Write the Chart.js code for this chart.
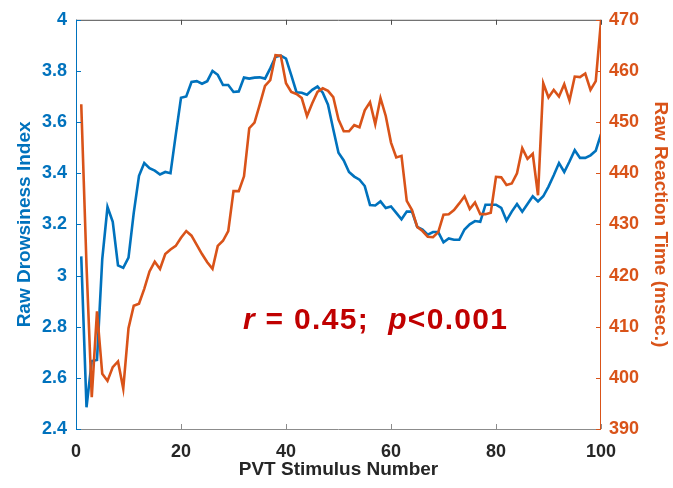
<!DOCTYPE html>
<html lang="en">
<head>
  <meta charset="UTF-8" />
  <title>Drowsiness vs Reaction Time</title>
  <script src="https://cdn.jsdelivr.net/npm/chart.js"></script>
  <style>
    html, body { margin: 0; padding: 0; background: #fff; }
    #wrap { width: 673px; height: 488px; }
  </style>
</head>
<body>
  <div id="wrap"><canvas id="chart"></canvas></div>

  <script>
    // stimulus numbers 1..100
    const stimulus = Array.from({ length: 100 }, (_, i) => i + 1);

    const drowsiness = [
      3.075, 2.485, 2.666, 2.67, 3.064, 3.268, 3.21, 3.04, 3.03, 3.07,
      3.245, 3.39, 3.44, 3.42, 3.41, 3.395, 3.405, 3.40, 3.55, 3.695,
      3.70, 3.757, 3.76, 3.75, 3.76, 3.80, 3.785, 3.745, 3.745, 3.718,
      3.72, 3.774, 3.77, 3.774, 3.775, 3.77, 3.81, 3.855, 3.86, 3.848,
      3.784, 3.717, 3.715, 3.707, 3.726, 3.739, 3.715, 3.668, 3.572, 3.48,
      3.45, 3.405, 3.387, 3.375, 3.35, 3.276, 3.274, 3.29, 3.264, 3.27,
      3.245, 3.22, 3.25, 3.25, 3.19, 3.18, 3.16, 3.17, 3.17, 3.13,
      3.145, 3.14, 3.14, 3.18, 3.20, 3.213, 3.21, 3.277, 3.277, 3.277,
      3.265, 3.215, 3.25, 3.28, 3.25, 3.28, 3.31, 3.29, 3.31, 3.348,
      3.392, 3.44, 3.405, 3.446, 3.49, 3.46, 3.46, 3.47, 3.488, 3.553
    ];

    const reactionTime = [
      453.5, 422, 396.2, 413, 400.8, 399.4, 402.1, 403.2, 397.9, 409.7,
      414.1, 414.5, 417.4, 420.8, 422.7, 421.3, 424.2, 425.1, 425.8, 427.4,
      428.7, 427.8, 426, 424.2, 422.6, 421.3, 425.8, 426.8, 428.7, 436.5,
      436.5, 439.4, 448.8, 449.9, 453.4, 457.1, 458.2, 463.1, 463, 457.6,
      455.9, 455.5, 454.7, 451.2, 453.7, 455.9, 456.6, 456.1, 454.9, 450.5,
      448.2, 448.2, 449.4, 449, 452.3, 453.9, 449.6, 454.7, 451.2, 446,
      443.1, 443.4, 434.6, 432.8, 429.5, 428.7, 427.6, 427.5, 428.5, 431.9,
      432, 432.8, 434.1, 435.5, 433, 434.3, 432, 432, 432.3, 439.3,
      439.2, 437.7, 438, 440, 444.9, 442.8, 443.8, 435.7, 457.6, 454.8,
      456.3, 455, 457.4, 454.2, 458.9, 458.8, 459.5, 456.3, 458, 469.8
    ];

    const xRange = [0, 100, 20];
    const leftRange = [2.4, 4, 0.2];
    const rightRange = [390, 470, 10];

    const BLUE = '#0072BD';
    const ORANGE = '#D95319';
    const DARK = '#262626';
    const TICK_FONT = { family: '"Liberation Sans", Arial, sans-serif', size: 18, weight: 'bold' };
    const TITLE_FONT = { family: '"Liberation Sans", Arial, sans-serif', size: 19, weight: 'bold' };

    // box + inward ticks, MATLAB style
    const framePlugin = {
      id: 'frame',
      afterDatasetsDraw(chart) {
        const { ctx, chartArea: a, scales } = chart;
        const L = 5;
        ctx.save();
        ctx.lineWidth = 1;
        // top / bottom
        ctx.strokeStyle = '#4d4d4d';
        ctx.beginPath(); ctx.moveTo(a.left, a.top + 0.5); ctx.lineTo(a.right, a.top + 0.5); ctx.stroke();
        ctx.strokeStyle = '#8c8c8c';
        ctx.beginPath(); ctx.moveTo(a.left, a.bottom + 0.5); ctx.lineTo(a.right, a.bottom + 0.5); ctx.stroke();
        scales.x.ticks.forEach(t => {
          const px = Math.round(scales.x.getPixelForValue(t.value)) + 0.5;
          ctx.strokeStyle = '#4d4d4d';
          ctx.beginPath(); ctx.moveTo(px, a.top); ctx.lineTo(px, a.top + L); ctx.stroke();
          ctx.strokeStyle = '#8c8c8c';
          ctx.beginPath(); ctx.moveTo(px, a.bottom); ctx.lineTo(px, a.bottom - L); ctx.stroke();
        });
        // left axis
        ctx.strokeStyle = BLUE;
        ctx.beginPath(); ctx.moveTo(a.left + 0.5, a.top); ctx.lineTo(a.left + 0.5, a.bottom + 1); ctx.stroke();
        scales.y.ticks.forEach(t => {
          const py = Math.round(scales.y.getPixelForValue(t.value)) + 0.5;
          ctx.beginPath(); ctx.moveTo(a.left, py); ctx.lineTo(a.left + L, py); ctx.stroke();
        });
        // right axis
        ctx.strokeStyle = ORANGE;
        ctx.beginPath(); ctx.moveTo(a.right - 0.5, a.top); ctx.lineTo(a.right - 0.5, a.bottom + 1); ctx.stroke();
        scales.y2.ticks.forEach(t => {
          const py = Math.round(scales.y2.getPixelForValue(t.value)) + 0.5;
          ctx.beginPath(); ctx.moveTo(a.right, py); ctx.lineTo(a.right - L, py); ctx.stroke();
        });

        // correlation note
        const parts = [
          ['r', 'italic'], [' = 0.45;  ', 'normal'], ['p', 'italic'], ['<0.001', 'normal']
        ];
        let x = a.left + 167;
        const y = 329;
        ctx.fillStyle = '#C00000';
        ctx.textBaseline = 'alphabetic';
        ctx.letterSpacing = '1.3px';
        parts.forEach(([s, style]) => {
          ctx.font = style + ' bold 30px "Liberation Sans", Arial, sans-serif';
          ctx.fillText(s, x, y);
          x += ctx.measureText(s).width;
        });
        ctx.restore();
      }
    };

    new Chart(document.getElementById('chart'), {
      type: 'line',
      data: {
        labels: stimulus,
        datasets: [
          {
            label: 'Raw Reaction Time',
            data: reactionTime,
            yAxisID: 'y2',
            borderColor: ORANGE,
            borderWidth: 2.6,
            pointRadius: 0,
            tension: 0,
            order: 0
          },
          {
            label: 'Raw Drowsiness Index',
            data: drowsiness,
            yAxisID: 'y',
            borderColor: BLUE,
            borderWidth: 2.6,
            pointRadius: 0,
            tension: 0,
            order: 1
          }
        ]
      },
      options: {
        responsive: true,
        maintainAspectRatio: false,
        animation: false,
        layout: { padding: { top: 14, left: 0, right: 0, bottom: 0 } },
        plugins: { legend: { display: false }, tooltip: { enabled: false } },
        scales: {
          x: {
            type: 'linear',
            min: xRange[0], max: xRange[1],
            grid: { display: false, drawTicks: false },
            border: { display: false },
            ticks: { stepSize: xRange[2], color: DARK, font: TICK_FONT, padding: 12, maxRotation: 0 },
            title: { display: true, text: 'PVT Stimulus Number', color: DARK, font: TITLE_FONT, padding: { top: 0, bottom: 7 } },
            afterFit(s) { s.height = 59; }
          },
          y: {
            position: 'left',
            min: leftRange[0], max: leftRange[1],
            grid: { display: false, drawTicks: false },
            border: { display: false },
            ticks: { stepSize: leftRange[2], color: BLUE, font: TICK_FONT, padding: 9,
                     callback: v => String(+v.toFixed(1)) },
            title: { display: true, text: 'Raw Drowsiness Index', color: BLUE, font: TITLE_FONT, padding: { top: 13, bottom: 0 } },
            afterFit(s) { s.width = 76; }
          },
          y2: {
            position: 'right',
            min: rightRange[0], max: rightRange[1],
            grid: { display: false, drawTicks: false },
            border: { display: false },
            ticks: { stepSize: rightRange[2], color: ORANGE, font: TICK_FONT, padding: 8 },
            title: { display: true, text: 'Raw Reaction Time (msec.)', color: ORANGE, font: TITLE_FONT, padding: { top: 1, bottom: 0 } },
            afterFit(s) { s.width = 72; }
          }
        }
      },
      plugins: [framePlugin]
    });
  </script>
</body>
</html>
